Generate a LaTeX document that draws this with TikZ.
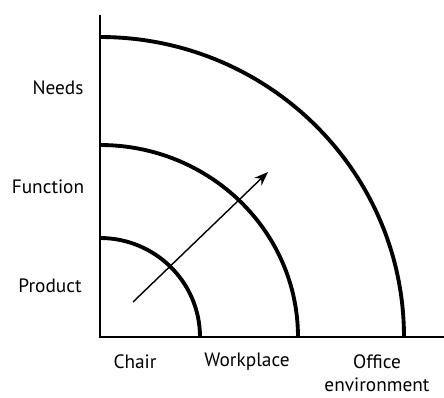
\documentclass[tikz,border=0pt]{standalone}
\usepackage{fontspec}
\setmainfont{PT Sans}
\usepackage{tikz}
\usetikzlibrary{arrows.meta}

\begin{document}
\begin{tikzpicture}[x=0.02cm,y=0.02cm,
    ring/.style={line width=2.2pt},
    lbl/.style={font=\fontsize{11}{13}\selectfont}]
  \useasboundingbox (-100,-60) rectangle (344,337);
  % axes
  \draw[line width=1.1pt] (0,322) -- (0,0) -- (344,0);
  % the three levels
  \draw[ring] (0,99) arc[start angle=90,end angle=0,x radius=100,y radius=99];
  \draw[ring] (0,192) arc[start angle=90,end angle=0,x radius=198,y radius=192];
  \draw[ring] (0,300) arc[start angle=90,end angle=0,x radius=304,y radius=300];
  % labels
  \node[lbl] (needs) at (-42,249) {Needs};
  \node[lbl] (function) at (-52,150) {Function};
  \node[lbl] (product) at (-50,51) {Product};
  \node[lbl] (chair) at (35,-25) {Chair};
  \node[lbl] (workplace) at (147,-25) {Workplace};
  \node[lbl,align=center] (office) at (277,-36) {Office\\environment};
  % arrow
  \coordinate (from) at (33,35);
  \coordinate (to) at (168,165);
  \draw[line width=0.8pt,-{Stealth[length=8pt,width=6pt]}] (from) -- (to);
\end{tikzpicture}
\end{document}
